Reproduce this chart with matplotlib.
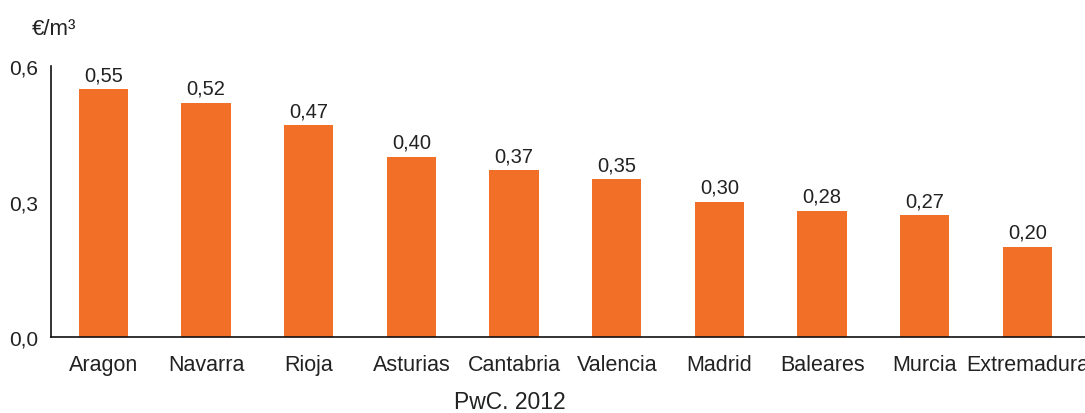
import matplotlib
matplotlib.use("Agg")
import matplotlib.pyplot as plt

regions = ["Aragon", "Navarra", "Rioja", "Asturias", "Cantabria", "Valencia",
           "Madrid", "Baleares", "Murcia", "Extremadura"]
prices = [0.55, 0.52, 0.47, 0.40, 0.37, 0.35, 0.30, 0.28, 0.27, 0.20]
yticks = [0.0, 0.3, 0.6]
ytick_labels = ["0,0", "0,3", "0,6"]

plt.rcParams["font.family"] = ["Liberation Sans", "DejaVu Sans"]

fig = plt.figure(figsize=(10.85, 4.14), dpi=100)
ax = fig.add_axes([0.047, 0.1836, 0.953, 0.6534])

x = range(len(regions))
ax.bar(x, prices, width=0.48, color="#F26F27", edgecolor="none", zorder=1)

for xi, v in zip(x, prices):
    ax.text(xi, v + 0.011, f"{v:.2f}".replace(".", ","), ha="center", va="bottom",
            fontsize=14.5, color="#222222")

ax.set_xlim(-0.51, 9.56)
ax.set_ylim(0, 0.6)
ax.set_xticks(list(x))
ax.set_xticklabels(regions, fontsize=15.5, color="#222222")
ax.set_yticks(yticks)
ax.set_yticklabels(ytick_labels, fontsize=15, color="#222222")
ax.tick_params(axis="both", length=0)
ax.tick_params(axis="x", pad=12)
ax.tick_params(axis="y", pad=9)

for side in ("top", "right"):
    ax.spines[side].set_visible(False)
for side in ("left", "bottom"):
    ax.spines[side].set_linewidth(1.2)
    ax.spines[side].set_color("#111111")
    ax.spines[side].set_zorder(3)

fig.text(0.05, 0.928, "€/m³", fontsize=16, color="#222222", ha="center", va="center")
fig.text(0.47, 0.027, "PwC. 2012", fontsize=16.5, color="#222222", ha="center", va="center")

fig.savefig("out.png", dpi=100)
